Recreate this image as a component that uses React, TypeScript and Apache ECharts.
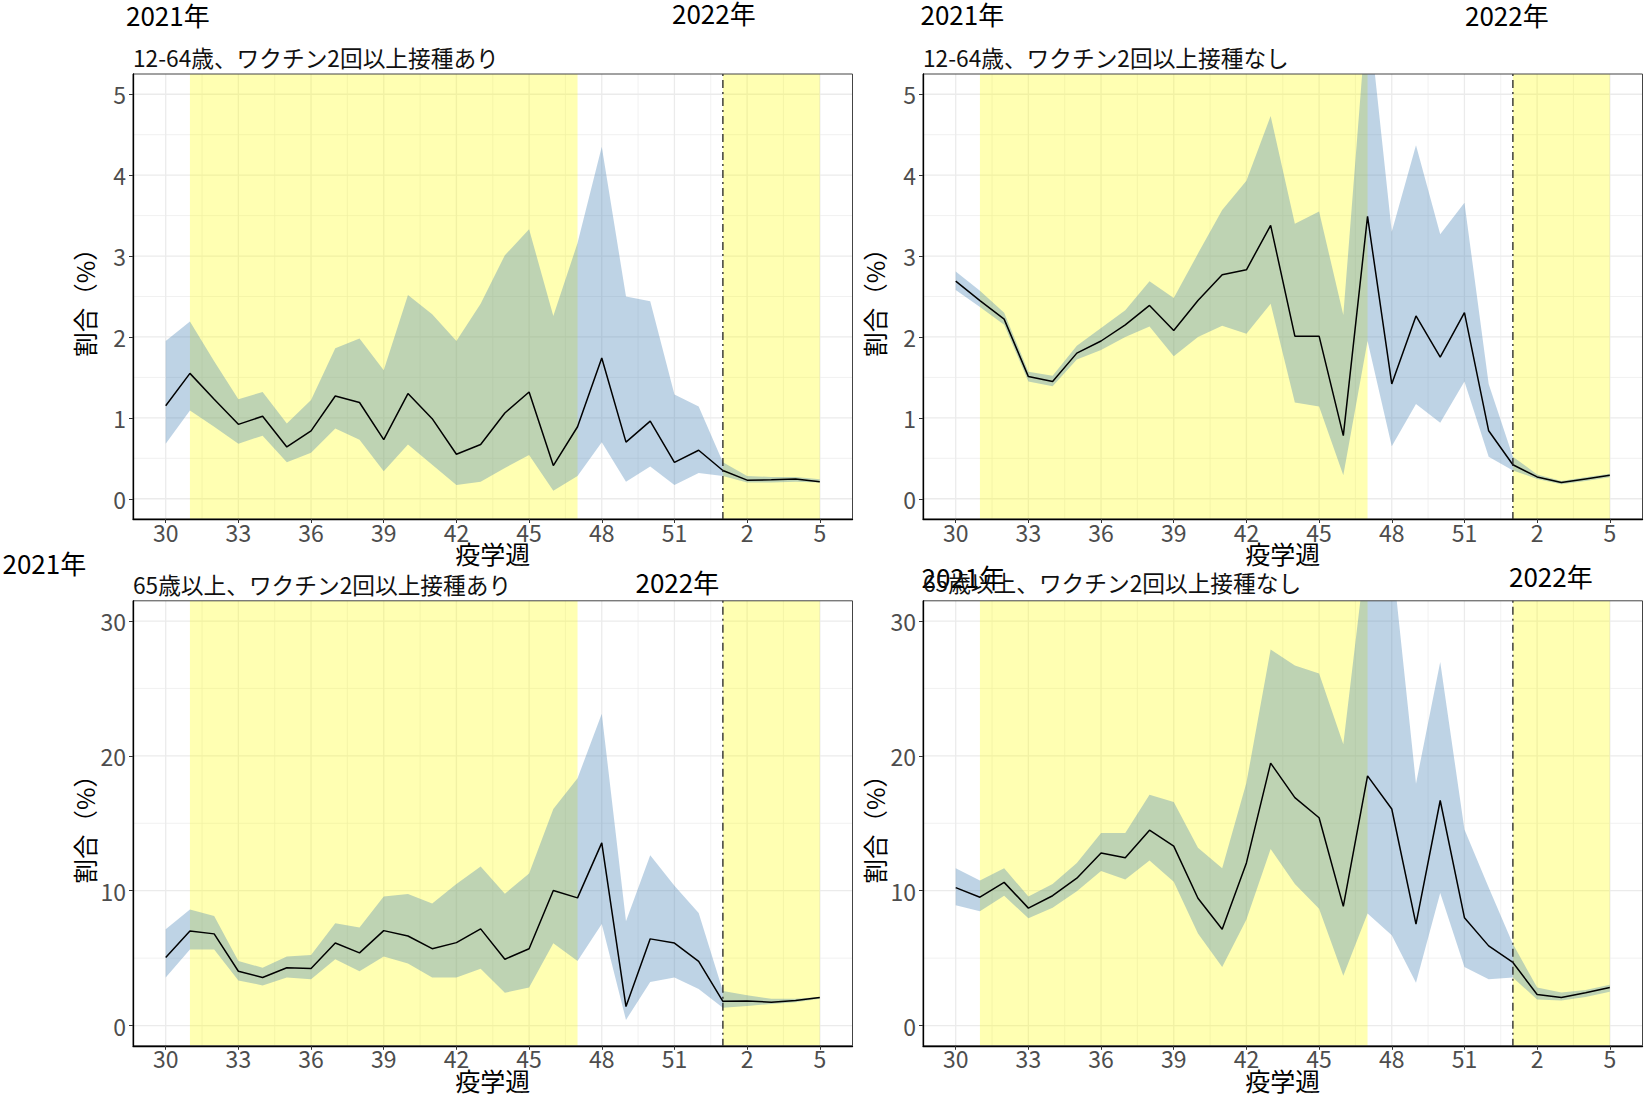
import React, { useEffect, useRef } from 'react';
import * as echarts from 'echarts';

// ---- data ----
const weekLabels = ['30','31','32','33','34','35','36','37','38','39','40','41','42','43','44','45','46','47','48','49','50','51','52','1','2','3','4','5'];
const xTicks = [0, 3, 6, 9, 12, 15, 18, 21, 24, 27];
const yTicksLow = [0, 1, 2, 3, 4, 5];
const yTicksHigh = [0, 10, 20, 30];
const yellowBands = [[1, 17], [23, 27]];
const yearBreak = 23;

const titles = [
  '12-64歳、ワクチン2回以上接種あり',
  '12-64歳、ワクチン2回以上接種なし',
  '65歳以上、ワクチン2回以上接種あり',
  '65歳以上、ワクチン2回以上接種なし',
];

const p1Mid = [1.15,1.55,1.23,0.92,1.02,0.64,0.84,1.27,1.19,0.73,1.30,0.99,0.55,0.67,1.06,1.32,0.41,0.89,1.74,0.70,0.96,0.45,0.60,0.35,0.23,0.235,0.245,0.21];
const p1Hi = [1.95,2.19,1.70,1.23,1.32,0.93,1.22,1.86,1.98,1.59,2.52,2.28,1.95,2.41,3.01,3.33,2.26,3.16,4.35,2.50,2.44,1.29,1.14,0.45,0.28,0.27,0.27,0.24];
const p1Lo = [0.68,1.09,0.89,0.68,0.78,0.45,0.57,0.87,0.73,0.34,0.67,0.42,0.17,0.21,0.38,0.54,0.10,0.28,0.70,0.21,0.40,0.17,0.32,0.28,0.20,0.20,0.21,0.20];

const p2Mid = [2.69,2.45,2.22,1.51,1.45,1.80,1.95,2.15,2.39,2.08,2.45,2.77,2.83,3.38,2.01,2.01,0.78,3.49,1.42,2.26,1.75,2.30,0.84,0.42,0.27,0.20,0.245,0.29];
const p2Hi = [2.81,2.57,2.30,1.57,1.52,1.89,2.11,2.33,2.69,2.48,3.03,3.57,3.93,4.73,3.40,3.55,2.27,6.10,3.30,4.37,3.27,3.66,1.42,0.52,0.30,0.22,0.265,0.31];
const p2Lo = [2.58,2.37,2.15,1.45,1.39,1.72,1.84,2.00,2.13,1.76,2.00,2.14,2.04,2.41,1.19,1.14,0.29,1.95,0.65,1.17,0.94,1.45,0.52,0.35,0.245,0.18,0.22,0.265];

const p3Mid = [5.05,7.01,6.80,4.03,3.56,4.29,4.24,6.12,5.39,7.04,6.64,5.70,6.15,7.17,4.92,5.70,10.02,9.47,13.55,1.41,6.43,6.12,4.76,1.80,1.83,1.73,1.86,2.09];
const p3Hi = [7.14,8.61,8.13,4.79,4.29,5.13,5.23,7.59,7.27,9.57,9.76,9.05,10.49,11.80,9.78,11.27,16.06,18.34,23.12,7.74,12.63,10.36,8.34,2.56,2.25,1.99,1.99,2.12];
const p3Lo = [3.56,5.65,5.65,3.35,2.98,3.56,3.43,4.92,4.03,5.13,4.60,3.56,3.56,4.21,2.43,2.83,6.10,4.79,7.53,0.42,3.24,3.56,2.72,1.33,1.46,1.60,1.73,1.99];

const p4Mid = [10.23,9.52,10.62,8.71,9.63,10.93,12.79,12.45,14.49,13.31,9.44,7.14,12.06,19.46,16.90,15.41,8.84,18.52,16.06,7.53,16.69,8.00,5.91,4.68,2.30,2.09,2.43,2.83];
const p4Hi = [11.67,10.75,11.67,9.57,10.49,12.06,14.28,14.28,17.11,16.58,13.18,11.67,18.0,27.88,26.71,26.11,20.87,36.0,35.0,17.94,26.97,14.54,10.23,6.04,2.83,2.46,2.64,3.03];
const p4Lo = [8.92,8.47,9.63,7.95,8.74,9.97,11.46,10.83,12.24,10.67,6.83,4.34,7.87,13.10,10.49,8.66,3.69,8.32,6.70,3.17,9.84,4.34,3.43,3.56,1.94,1.86,2.12,2.51];

// ---- layout / style ----
const FONT = '"Noto Sans CJK JP", "Noto Sans", sans-serif';
const GRID_W = 719.5;
const GRID_H = 445;

type Panel = {
  left: number; top: number; mid: number[]; hi: number[]; lo: number[];
  yMin: number; yMax: number; yTicks: number[];
  title: string; titleY: number;
  y2021: [number, number]; y2022: [number, number];
};

const panels: Panel[] = [
  { left: 133, top: 74, mid: p1Mid, hi: p1Hi, lo: p1Lo, yMin: -0.25, yMax: 5.25, yTicks: yTicksLow,
    title: titles[0], titleY: 57, y2021: [126, 14], y2022: [672, 12] },
  { left: 923, top: 74, mid: p2Mid, hi: p2Hi, lo: p2Lo, yMin: -0.25, yMax: 5.25, yTicks: yTicksLow,
    title: titles[1], titleY: 57, y2021: [920.5, 13], y2022: [1465, 14] },
  { left: 133, top: 600.8, mid: p3Mid, hi: p3Hi, lo: p3Lo, yMin: -1.5, yMax: 31.5, yTicks: yTicksHigh,
    title: titles[2], titleY: 584, y2021: [2.5, 562], y2022: [635.5, 581] },
  { left: 923, top: 600.8, mid: p4Mid, hi: p4Hi, lo: p4Lo, yMin: -1.5, yMax: 31.5, yTicks: yTicksHigh,
    title: titles[3], titleY: 582.5, y2021: [921.5, 576], y2022: [1509, 575.5] },
];

function midpoints(ticks: number[]): number[] {
  const out: number[] = [];
  for (let i = 0; i < ticks.length - 1; i++) out.push((ticks[i] + ticks[i + 1]) / 2);
  return out;
}

function buildOption() {
  const grid: any[] = [];
  const xAxis: any[] = [];
  const yAxis: any[] = [];
  const series: any[] = [];
  const graphic: any[] = [];

  panels.forEach((p, k) => {
    grid.push({ left: p.left, top: p.top, width: GRID_W, height: GRID_H, show: true,
      backgroundColor: '#FFFFFF', borderWidth: 0 });
    xAxis.push({
      type: 'value', gridIndex: k, min: -1.35, max: 28.35, z: 11,
      axisLine: { show: true, onZero: false, lineStyle: { color: '#000000', width: 1.3 } },
      axisTick: { show: true, customValues: xTicks, length: 4, lineStyle: { color: '#333333', width: 1 } },
      axisLabel: { show: true, customValues: xTicks, margin: 1, color: '#4D4D4D', fontSize: 23, fontFamily: FONT,
        formatter: (v: number) => weekLabels[Math.round(v)] ?? '' },
      splitLine: { show: false },
    });
    yAxis.push({
      type: 'value', gridIndex: k, min: p.yMin, max: p.yMax, z: 11,
      axisLine: { show: true, onZero: false, lineStyle: { color: '#000000', width: 1.3 } },
      axisTick: { show: true, customValues: p.yTicks, length: 4, lineStyle: { color: '#333333', width: 1 } },
      axisLabel: { show: true, customValues: p.yTicks, margin: 7, color: '#4D4D4D', fontSize: 23, fontFamily: FONT,
        padding: [0, 0, 4, 0] },
      splitLine: { show: false },
    });

    const xMinor = midpoints(xTicks);
    const yMinor = midpoints(p.yTicks);

    // grid lines
    series.push({
      type: 'custom', xAxisIndex: k, yAxisIndex: k, z: 1, silent: true, clip: true,
      data: [[0, 0]],
      renderItem: (params: any, api: any) => {
        const cs = params.coordSys;
        const ch: any[] = [];
        const vline = (v: number, w: number) => {
          const x = api.coord([v, 0])[0];
          ch.push({ type: 'line', shape: { x1: x, y1: cs.y, x2: x, y2: cs.y + cs.height },
            style: { stroke: '#EBEBEB', lineWidth: w } });
        };
        const hline = (v: number, w: number) => {
          const y = api.coord([0, v])[1];
          ch.push({ type: 'line', shape: { x1: cs.x, y1: y, x2: cs.x + cs.width, y2: y },
            style: { stroke: '#EBEBEB', lineWidth: w } });
        };
        xMinor.forEach((v) => vline(v, 0.7));
        yMinor.forEach((v) => hline(v, 0.7));
        xTicks.forEach((v) => vline(v, 1.3));
        p.yTicks.forEach((v) => hline(v, 1.3));
        return { type: 'group', children: ch };
      },
    });

    // yellow bands
    series.push({
      type: 'custom', xAxisIndex: k, yAxisIndex: k, z: 2, silent: true, clip: true,
      data: yellowBands,
      renderItem: (params: any, api: any) => {
        const cs = params.coordSys;
        const x1 = api.coord([api.value(0), 0])[0];
        const x2 = api.coord([api.value(1), 0])[0];
        return { type: 'rect', shape: { x: x1, y: cs.y, width: x2 - x1, height: cs.height },
          style: { fill: 'rgba(255,255,0,0.3)' } };
      },
    });

    // ribbon
    series.push({
      type: 'custom', xAxisIndex: k, yAxisIndex: k, z: 3, silent: true, clip: true,
      data: [[0, 0]],
      renderItem: (params: any, api: any) => {
        const pts: number[][] = [];
        for (let i = 0; i < p.hi.length; i++) pts.push(api.coord([i, p.hi[i]]));
        for (let i = p.lo.length - 1; i >= 0; i--) pts.push(api.coord([i, p.lo[i]]));
        return { type: 'polygon', shape: { points: pts }, style: { fill: 'rgba(70,130,180,0.35)' } };
      },
    });

    // main line
    series.push({
      type: 'line', xAxisIndex: k, yAxisIndex: k, z: 4, silent: true,
      data: p.mid.map((v, i) => [i, v]),
      symbol: 'none', showSymbol: false,
      lineStyle: { color: '#000000', width: 1.5 },
    });

    // year break dot-dash line + frame
    series.push({
      type: 'custom', xAxisIndex: k, yAxisIndex: k, z: 5, silent: true,
      data: [[yearBreak, 0]],
      renderItem: (params: any, api: any) => {
        const cs = params.coordSys;
        const x = api.coord([api.value(0), 0])[0];
        return { type: 'group', children: [
          { type: 'line', shape: { x1: x, y1: cs.y, x2: x, y2: cs.y + cs.height },
            style: { stroke: '#222222', lineWidth: 1.3, lineDash: [2, 4, 8, 4] } },
          { type: 'rect', shape: { x: cs.x, y: cs.y, width: cs.width, height: cs.height },
            style: { fill: 'none', stroke: '#444444', lineWidth: 1 } },
        ] };
      },
    });

    // texts
    const cx = p.left + GRID_W / 2;
    const cy = p.top + GRID_H / 2;
    graphic.push({ type: 'text', x: p.y2021[0], y: p.y2021[1], silent: true,
      style: { text: '2021年', fontSize: 26, fontFamily: FONT, fill: '#000000', textAlign: 'left', textVerticalAlign: 'middle' } });
    graphic.push({ type: 'text', x: p.y2022[0], y: p.y2022[1], silent: true,
      style: { text: '2022年', fontSize: 26, fontFamily: FONT, fill: '#000000', textAlign: 'left', textVerticalAlign: 'middle' } });
    graphic.push({ type: 'text', x: p.left, y: p.titleY, silent: true,
      style: { text: p.title, fontSize: 22.7, fontFamily: FONT, fill: '#111111', textAlign: 'left', textVerticalAlign: 'middle' } });
    graphic.push({ type: 'text', x: cx, y: p.top + GRID_H + 34, silent: true,
      style: { text: '疫学週', fontSize: 25, fontFamily: FONT, fill: '#000000', textAlign: 'center', textVerticalAlign: 'middle' } });
    graphic.push({ type: 'text', x: p.left - 48.5, y: cy, rotation: Math.PI / 2, silent: true,
      style: { text: '割合（%）', fontSize: 24.5, fontFamily: FONT, fill: '#000000', textAlign: 'center', textVerticalAlign: 'middle' } });
  });

  return {
    animation: false,
    backgroundColor: '#FFFFFF',
    grid, xAxis, yAxis, series, graphic,
  };
}

export default function App() {
  const ref = useRef<HTMLDivElement>(null);
  useEffect(() => {
    if (!ref.current) return;
    const chart = echarts.init(ref.current, undefined, { renderer: 'svg' });
    chart.setOption(buildOption() as any);
    return () => chart.dispose();
  }, []);
  return (
    <div ref={ref} style={{ position: 'absolute', left: 0, top: 0, width: 1647, height: 1094, background: '#FFFFFF' }} />
  );
}
